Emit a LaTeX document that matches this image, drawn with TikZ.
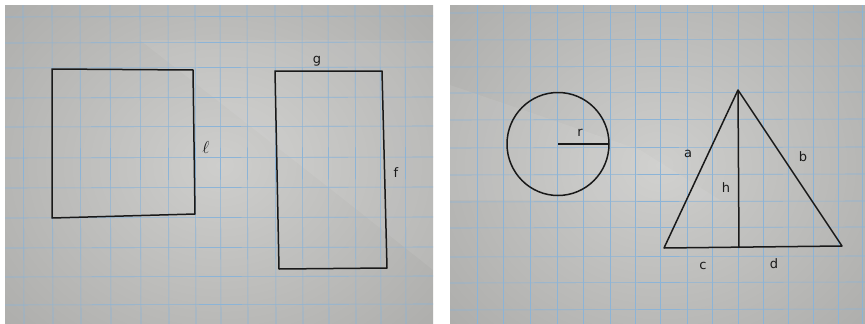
\documentclass[tikz,border=0pt]{standalone}
\usepackage{fontspec}
\setmainfont{DejaVu Sans}
\begin{document}
\begin{tikzpicture}[x=1pt,y=-1pt,
  gridl/.style={draw=gridc,line width=0.6pt},
  ink/.style={draw=inkc,line width=1.5pt,line join=round},
  lbl/.style={text=inkc,font=\fontsize{13}{13}\selectfont,inner sep=0pt}]
\definecolor{paperd}{RGB}{168,168,166}
\definecolor{paperl}{RGB}{206,206,204}
\definecolor{gridc}{RGB}{140,180,215}
\definecolor{inkc}{RGB}{25,25,25}
\useasboundingbox (0,0) rectangle (865,324);
\fill[white] (0,0) rectangle (865,324);
% left photo
\begin{scope}
\clip (5,5) rectangle (433,324);
\shade[inner color=paperl,outer color=paperd] (-120,-120) rectangle (560,450);
\fill[white,opacity=0.07] (140,40) -- (433,40) -- (433,270) -- (360,212) -- cycle;
\foreach \x in {23,52,80,110,140,168,195,220,247,275,302,328,355,380,405}
  \draw[gridl] (\x,5) -- (\x+1,324);
\foreach \y in {17,43,68,98,127,158,188,218,248,277,305}
  \draw[gridl] (5,\y) -- (433,\y-1);
\end{scope}
% right photo
\begin{scope}
\clip (450,5) rectangle (865,324);
\shade[inner color=paperl,outer color=paperd] (330,-120) rectangle (990,450);
\fill[white,opacity=0.07] (450,85) -- (640,150) -- (720,200) -- (450,200) -- cycle;
\foreach \x in {477,503,530,557,583,610,635,660,687,712,738,763,788,813,838,862}
  \draw[gridl] (\x,5) -- (\x,324);
\foreach \y in {13,40,67,93,120,148,175,202,228,257,283,310}
  \draw[gridl] (450,\y) -- (865,\y-1);
\end{scope}
% square
\coordinate (s1) at (52,69);
\coordinate (s2) at (193,70);
\coordinate (s3) at (195,214);
\coordinate (s4) at (52,218);
\draw[ink] (s1) -- (s2) -- (s3) -- (s4) -- cycle;
\node[lbl,font=\fontsize{18}{18}\selectfont] (l) at (206,147) {$\ell$};
% rectangle
\coordinate (r1) at (275,71);
\coordinate (r2) at (382,71);
\coordinate (r3) at (387,268);
\coordinate (r4) at (279,269);
\draw[ink] (r1) -- (r2) -- (r3) -- (r4) -- cycle;
\node[lbl] (g) at (317,61) {g};
\node[lbl] (f) at (396,173) {f};
% circle
\coordinate (c0) at (558,144);
\coordinate (c1) at (609,144);
\draw[ink] (c0) circle[x radius=51,y radius=51.5];
\draw[ink] (c0) -- (c1);
\node[lbl] (r) at (580,133) {r};
% triangle
\coordinate (tA) at (738,90);
\coordinate (tB) at (664,248);
\coordinate (tC) at (842,246);
\coordinate (tH) at (739,248);
\draw[ink] (tA) -- (tB) -- (tC) -- cycle;
\draw[ink] (tA) -- (tH);
\node[lbl] (a) at (688,154) {a};
\node[lbl] (b) at (803,157) {b};
\node[lbl] (h) at (726,188) {h};
\node[lbl] (c) at (703,266) {c};
\node[lbl] (d) at (774,264) {d};
\end{tikzpicture}
\end{document}
